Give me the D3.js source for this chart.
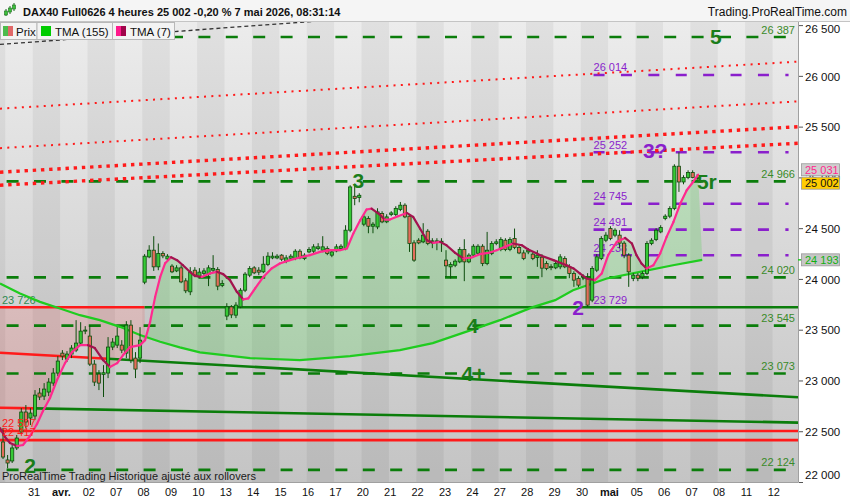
<!DOCTYPE html>
<html>
<head>
<meta charset="utf-8">
<script src="https://cdn.jsdelivr.net/npm/d3@7"></script>
<style>
  body { margin: 0; background: #fff; }
  svg { display: block; font-family: "Liberation Sans", Arial, sans-serif; }
</style>
</head>
<body>
<svg width="850" height="500"></svg>
<script>
var WIDTH = 850;
var HEIGHT = 500;
var PLOT_R = 798;
var PLOT_T = 22;
var PLOT_B = 482;

// 4h bars, 6 per trading day; slot 0 = first bar of 31 mars
var firstSlot = -7;
var open = [22399,22222,22212,22340,22497,22694,22635,22655,22881,22851,22891,22979,23078,23274,23215,23265,23304,23373,23491,23442,23166,23068,23065,23078,23334,23353,23353,23274,23550,23225,23225,
  23973,24222,24288,24124,24256,24202,24131,24084,24114,23986,23878,24091,24025,24059,24052,24091,24098,23941,23639,23730,23648,23730,23894,24042,24114,24091,24075,24147,24212,24212,24239,24180,24209,24206,24278,24206,24271,24278,24305,24288,24305,24239,24281,
  24305,24305,24485,24819,24807,24544,24600,24524,24517,24649,24567,24639,24639,24689,24731,24623,24360,24386,24370,24475,24360,24380,24370,24190,24124,24140,24173,24295,24173,24239,24258,24327,24157,24256,24354,24295,24386,24295,24403,24315,24261,24271,24249,24216,
  24219,24157,24126,24114,24124,24206,24124,24059,24009,24022,24009,23796,24091,24206,24386,24501,24436,24436,24357,24239,24009,24042,24025,24059,24354,24393,24468,24600,24623,24698,25115,24960,25003,25053,24992];
var high = [22536,22271,22369,22468,22733,22763,22733,22910,22930,22979,23028,23127,23245,23304,23294,23353,23599,23579,23540,23550,23206,23107,23156,23432,23422,23530,23402,23589,23599,23284,23530,
  24249,24337,24426,24354,24278,24249,24150,24140,24140,24012,24121,24121,24111,24111,24140,24239,24121,23993,23766,23747,23776,23914,24072,24131,24131,24121,24229,24268,24268,24249,24249,24239,24249,24298,24298,24258,24318,24347,24357,24426,24327,24298,24347,
  24347,24534,24928,24944,24849,24642,24623,24564,24701,24672,24642,24672,24721,24763,24750,24642,24386,24406,24554,24495,24406,24406,24406,24288,24170,24199,24318,24396,24258,24347,24347,24347,24468,24377,24396,24416,24406,24416,24501,24337,24288,24308,24268,24288,
  24249,24180,24150,24180,24249,24229,24150,24081,24032,24052,24062,24131,24249,24426,24465,24524,24504,24485,24377,24258,24062,24062,24081,24377,24406,24504,24534,24642,24721,25134,25252,25026,25075,25075,25036];
var low = [22231,22140,22192,22320,22477,22536,22566,22615,22812,22812,22851,22950,23048,23206,23186,23225,23284,23353,23461,23147,22950,22910,22842,23028,23304,23324,23274,23225,23176,23028,23176,
  23953,24209,24084,24091,24209,24190,24062,24072,23963,23865,23845,24022,24012,24042,23934,24072,23894,23924,23599,23619,23619,23717,23875,24022,24052,24042,24062,24131,24199,24199,24180,24160,24190,24190,24199,24190,24258,24258,24288,24268,24239,24219,24268,
  24288,24288,24465,24731,24760,24524,24455,24455,24495,24554,24554,24623,24623,24672,24603,24271,24173,24347,24357,24337,24308,24288,24271,24025,24009,24121,24160,23983,24160,24219,24239,24131,24140,24239,24337,24278,24278,24278,24298,24249,24190,24249,24190,24124,
  24022,24091,24091,24101,24101,24111,24012,23927,23924,23993,23729,23776,24072,24190,24367,24386,24416,24308,24209,23927,23983,23983,24003,24042,24337,24377,24455,24583,24603,24682,24862,24937,24987,24996,24980];
var close = [22251,22192,22340,22438,22694,22596,22684,22861,22842,22920,22989,23078,23196,23245,23265,23324,23373,23491,23501,23166,22989,22979,23081,23334,23383,23442,23304,23550,23206,23117,23402,
  24229,24288,24124,24256,24232,24229,24075,24114,23976,23888,24075,24042,24072,24084,24114,24108,23934,23960,23730,23651,23747,23894,24052,24108,24065,24072,24150,24229,24229,24229,24199,24212,24229,24278,24212,24239,24295,24321,24321,24321,24256,24271,24321,
  24327,24485,24911,24797,24829,24616,24524,24544,24665,24567,24616,24655,24698,24731,24616,24354,24190,24360,24436,24354,24380,24377,24376,24134,24147,24180,24295,24173,24239,24327,24327,24157,24288,24354,24370,24393,24295,24393,24315,24261,24206,24288,24206,24239,
  24111,24108,24116,24157,24222,24124,24059,23993,23944,24032,23747,24108,24222,24403,24436,24403,24485,24357,24239,24075,24042,24012,24059,24354,24386,24485,24511,24623,24698,25115,24960,25003,25053,25003,25002];

// trading days shown on the time axis (first bar of each day)
var dayLabels = ["31","avr.","02","07","08","09","10","13","14","15","16","17","20","21","22","23","24","27","28","29","30","mai","05","06","07","08","11","12"];
var boldLabels = ["avr.","mai"];

// indicators: slot position and value
var tma7Slot = [-7.66,-6.57,-5.47,-3.94,-2.63,-1.09,0.44,1.75,3.28,4.82,6.57,8.1,9.85,11.6,13.1,14.9,16.4,18,19.3,20.8,23,24.1,25.2,26.3,27.4,28.5,29.8,31.1,32.4,33.9,35,36.5,38.3,39.8,41.2,42.7,44.2,45.6,46.7,48.2,50,51.8,53.6,55.8,58,60.2,62.4,64.6,66.8,68.3,69.7,71.2,72.6,73.7,75.2,76.6,77.7,79.5,81.4,82.8,84.3,85.8,87.2,88.7,90.1,92,93.8,95.6,97.4,99.3,101.1,102.9,104.7,106.6,108,109.9,110.6,113.5,116.4,117.9,119.3,120.8,122.6,124.1,125.5,127.4,129.2,130.7,131.7,132.8,133.9,135.4,136.9,138.3,139.8,141.3,142.7,144.1,145.2];
var tma7Val = [22536,22448,22389,22359,22369,22458,22576,22704,22832,23009,23176,23284,23353,23353,23324,23206,23137,23176,23255,23334,23353,23402,23580,23826,24022,24160,24219,24190,24140,24075,24035,24025,24059,24075,24052,23993,23878,23803,23813,23911,24025,24108,24157,24190,24216,24239,24271,24288,24288,24305,24452,24583,24689,24698,24649,24590,24590,24623,24655,24616,24501,24386,24360,24370,24337,24261,24206,24216,24249,24261,24288,24321,24354,24337,24295,24256,24239,24190,24140,24108,24059,24009,23993,24059,24239,24370,24409,24354,24239,24157,24108,24140,24256,24419,24566,24747,24878,24960,25031];
var tma155Slot = [-7.66,-3.28,1.09,5.47,9.85,14.2,18.6,23,27.4,31.7,36.1,47.1,58,69,79.9,87.1,97.4,101.8,109,113.9,117.8,125.2,132.5,139.7,146.1];
var tma155Val = [23960,23862,23779,23714,23648,23599,23533,23452,23386,23331,23281,23225,23206,23245,23304,23373,23530,23599,23727,23796,23894,24009,24075,24140,24193];

var yTicks = [22000,22500,23000,23500,24000,24500,25000,25500,26000,26500];
var yTickLabels = ["22 000","22 500","23 000","23 500","24 000","24 500","25 000","25 500","26 000","26 500"];

var greenLevels = [26387,24966,24020,23545,23073,22124];
var greenLevelLabels = ["26 387","24 966","24 020","23 545","23 073","22 124"];
var purpleLevels = [26014,25252,24745,24491,24238];
var purpleLevelLabels = ["26 014","25 252","24 745","24 491","24 238"];
var redLevels = [22507,22417];
var redLevelLabels = ["22 507","22 417"];
var supportLevel = 23726;
var supportLabel = "23 726";
var lowLevel = 23729;
var lowLabel = "23 729";

// trend lines as [slot1, value1, slot2, value2]
var redDottedThick = [[-7.66,24928,167.1,25341],[-7.66,25056,167.1,25504]];
var redDottedThin = [[-7.66,25293,167.1,25754],[-7.66,25682,167.1,26145]];
var greenTrends = [[-7.66,23278,167.1,22839],[-7.66,22736,167.1,22590]];
var greenTrendRedUntil = [16,0];
var blackTrend = [-7.66,26315,58,26532];

// wave counts: text, slot, value
var greenWaves = [["5",149.1,26394],["3",70.8,24972],["4",95.8,23545],["4+",96,23073],["2",-1.1,22163],["5r",147.1,24967]];
var purpleWaves = [["3?",135.8,25272],["2",118.9,23722]];

var GREEN = '#0b7d0b';
var PURPLE = '#8a1fcc';
var RED = '#ff1a1a';

var x = d3.scaleLinear().domain([0, 168]).range([35, 35 + 168 * 4.567]);
var y = d3.scaleLinear().domain([22000, 26500]).range([482.5, 25.6]);
var sL = x.invert(0);
var sR = x.invert(PLOT_R);

var svg = d3.select('svg');
var defs = svg.append('defs');
var grad = defs.append('linearGradient').attr('id', 'bg')
  .attr('x1', 0).attr('y1', 0).attr('x2', 0).attr('y2', 1);
grad.append('stop').attr('offset', '0%').attr('stop-color', '#ececec');
grad.append('stop').attr('offset', '100%').attr('stop-color', '#c4c4c4');
defs.append('clipPath').attr('id', 'plot').append('rect')
  .attr('x', 0).attr('y', PLOT_T).attr('width', PLOT_R).attr('height', PLOT_B - PLOT_T);

var plot = svg.append('g').attr('clip-path', 'url(#plot)');
plot.append('rect').attr('x', 0).attr('y', PLOT_T)
  .attr('width', PLOT_R).attr('height', PLOT_B - PLOT_T).attr('fill', 'url(#bg)');

// alternate day bands
plot.selectAll('rect.band')
  .data(d3.range(-2, 30).filter(function(d) { return d % 2 === 0; }))
  .enter().append('rect')
  .attr('x', function(d) { return x(d * 6) - 2.3; })
  .attr('y', PLOT_T)
  .attr('width', 6 * 4.567)
  .attr('height', PLOT_B - PLOT_T)
  .attr('fill', '#000').attr('opacity', 0.05);

var tma7Pts = tma7Slot.map(function(s, i) { return [x(s), y(tma7Val[i])]; });
var tma155Pts = tma155Slot.map(function(s, i) { return [x(s), y(tma155Val[i])]; });
var lineGen = d3.line();

// red zone under the 23 726 support, left of the breakout
var pinkPts = [[x(sL), y(supportLevel)], [x(24), y(supportLevel)]].concat(
  tma7Pts.filter(function(p, i) { return tma7Slot[i] <= 24.2; }).reverse());
plot.append('path').attr('d', lineGen(pinkPts) + 'Z')
  .attr('fill', 'rgba(255,40,40,0.14)');

// green zone between TMA(7) and TMA(155)
var greenPts = tma7Pts.filter(function(p, i) { return tma7Slot[i] >= 24; })
  .concat(tma155Pts.filter(function(p, i) { return tma155Slot[i] >= 23; }).reverse());
plot.append('path').attr('d', lineGen(greenPts) + 'Z')
  .attr('fill', 'rgba(40,210,40,0.2)');

// dashed green levels
plot.selectAll('line.glev').data(greenLevels).enter().append('line')
  .attr('x1', x(-12) - 1).attr('x2', PLOT_R)
  .attr('y1', function(d) { return y(d); }).attr('y2', function(d) { return y(d); })
  .attr('stroke', GREEN).attr('stroke-width', 2.6).attr('stroke-dasharray', '12,15.4');

// dashed purple levels
plot.selectAll('line.plev').data(purpleLevels).enter().append('line')
  .attr('x1', x(122.3)).attr('x2', x(165))
  .attr('y1', function(d) { return y(d); }).attr('y2', function(d) { return y(d); })
  .attr('stroke', PURPLE).attr('stroke-width', 2.6).attr('stroke-dasharray', '11,16.4');

// solid horizontal levels
plot.append('line').attr('x1', x(sL)).attr('x2', x(24))
  .attr('y1', y(supportLevel)).attr('y2', y(supportLevel))
  .attr('stroke', RED).attr('stroke-width', 2.6);
plot.append('line').attr('x1', x(24)).attr('x2', PLOT_R)
  .attr('y1', y(supportLevel)).attr('y2', y(supportLevel))
  .attr('stroke', GREEN).attr('stroke-width', 2.6);
plot.selectAll('line.rlev').data(redLevels).enter().append('line')
  .attr('x1', 0).attr('x2', PLOT_R)
  .attr('y1', function(d) { return y(d); }).attr('y2', function(d) { return y(d); })
  .attr('stroke', RED).attr('stroke-width', 2.6);

function trendVal(t, s) {
  return t[1] + (t[3] - t[1]) * (s - t[0]) / (t[2] - t[0]);
}
function trendSeg(g, t, s1, s2) {
  return g.append('line')
    .attr('x1', x(s1)).attr('y1', y(trendVal(t, s1)))
    .attr('x2', x(s2)).attr('y2', y(trendVal(t, s2)));
}

greenTrends.forEach(function(t, i) {
  var cut = greenTrendRedUntil[i];
  trendSeg(plot, t, sL, cut).attr('stroke', RED).attr('stroke-width', 2.6);
  trendSeg(plot, t, cut, sR).attr('stroke', GREEN).attr('stroke-width', 2.6);
});
redDottedThin.forEach(function(t) {
  trendSeg(plot, t, sL, sR).attr('stroke', RED).attr('stroke-width', 2)
    .attr('stroke-dasharray', '2,5.3');
});
redDottedThick.forEach(function(t) {
  trendSeg(plot, t, sL, sR).attr('stroke', RED).attr('stroke-width', 3.4)
    .attr('stroke-dasharray', '3.4,4.8');
});
trendSeg(plot, blackTrend, sL, 80).attr('stroke', '#333').attr('stroke-width', 1.3)
  .attr('stroke-dasharray', '4,3');

// level labels
var labels = svg.append('g').attr('font-size', 11);
labels.selectAll('text.gl').data(greenLevels).enter().append('text')
  .attr('x', 795).attr('y', function(d) { return y(d) - 3.5; })
  .attr('text-anchor', 'end').attr('fill', '#3a8a2a')
  .text(function(d, i) { return greenLevelLabels[i]; });
labels.selectAll('text.pl').data(purpleLevels).enter().append('text')
  .attr('x', x(122.3)).attr('y', function(d) { return y(d) - 3.5; })
  .attr('fill', PURPLE)
  .text(function(d, i) { return purpleLevelLabels[i]; });
labels.append('text').attr('x', x(122.3)).attr('y', y(lowLevel) - 3)
  .attr('fill', PURPLE).text(lowLabel);
labels.append('text').attr('x', 2).attr('y', y(supportLevel) - 3.5)
  .attr('fill', '#2f8a52').text(supportLabel);

// TMA(155)
var ind = svg.append('g').attr('clip-path', 'url(#plot)');
ind.append('path').attr('d', lineGen(tma155Pts))
  .attr('fill', 'none').attr('stroke', '#1fcc1f').attr('stroke-width', 2.2);

// candles
var candles = open.map(function(o, i) {
  return { s: firstSlot + i, o: o, h: high[i], l: low[i], c: close[i] };
});
var cg = ind.append('g');
cg.selectAll('line.wick').data(candles).enter().append('line')
  .attr('x1', function(d) { return x(d.s); }).attr('x2', function(d) { return x(d.s); })
  .attr('y1', function(d) { return y(d.h); }).attr('y2', function(d) { return y(d.l); })
  .attr('stroke', '#0d4d0d').attr('stroke-width', 1);
cg.selectAll('rect.body').data(candles).enter().append('rect')
  .attr('x', function(d) { return x(d.s) - 1.6; })
  .attr('y', function(d) { return y(Math.max(d.o, d.c)); })
  .attr('width', 3.2)
  .attr('height', function(d) { return Math.max(1, Math.abs(y(d.o) - y(d.c))); })
  .attr('fill', function(d) { return d.c >= d.o ? '#36c936' : '#e46d5c'; })
  .attr('stroke', '#0d4d0d').attr('stroke-width', 0.8);

// red level labels sit over the bars
svg.append('g').attr('font-size', 11)
  .selectAll('text').data(redLevels).enter().append('text')
  .attr('x', 2).attr('y', function(d) { return y(d) - 4.5; })
  .attr('fill', RED)
  .text(function(d, i) { return redLevelLabels[i]; });

// TMA(7): pink rising, dark falling
for (var i = 1; i < tma7Pts.length; i++) {
  ind.append('line')
    .attr('x1', tma7Pts[i - 1][0]).attr('y1', tma7Pts[i - 1][1])
    .attr('x2', tma7Pts[i][0]).attr('y2', tma7Pts[i][1])
    .attr('stroke', tma7Val[i] >= tma7Val[i - 1] ? '#ff2a8e' : '#a3134f')
    .attr('stroke-width', 2.2).attr('stroke-linecap', 'round');
}

// wave counts
var waves = svg.append('g').attr('font-size', 21).attr('font-weight', 'bold')
  .attr('text-anchor', 'middle');
waves.selectAll('text.gw').data(greenWaves).enter().append('text')
  .attr('x', function(d) { return x(d[1]); }).attr('y', function(d) { return y(d[2]) + 7.5; })
  .attr('fill', '#1a7d1a').text(function(d) { return d[0]; });
waves.selectAll('text.pw').data(purpleWaves).enter().append('text')
  .attr('x', function(d) { return x(d[1]); }).attr('y', function(d) { return y(d[2]) + 7.5; })
  .attr('fill', PURPLE).text(function(d) { return d[0]; });

svg.append('text').attr('x', 2).attr('y', 480).attr('font-size', 11).attr('fill', '#1a1a1a')
  .text('ProRealTime Trading  Historique ajusté aux rollovers');

// axes frames
svg.append('rect').attr('x', PLOT_R + 0.5).attr('y', PLOT_T).attr('width', WIDTH - PLOT_R)
  .attr('height', HEIGHT - PLOT_T).attr('fill', '#fff');
svg.append('rect').attr('x', 0).attr('y', PLOT_B + 0.5).attr('width', WIDTH)
  .attr('height', HEIGHT - PLOT_B).attr('fill', '#fff');
svg.append('line').attr('x1', PLOT_R + 0.5).attr('x2', PLOT_R + 0.5).attr('y1', PLOT_T).attr('y2', PLOT_B + 0.5)
  .attr('stroke', '#a0a0a0');
svg.append('line').attr('x1', 0).attr('x2', PLOT_R + 0.5).attr('y1', PLOT_B + 0.5).attr('y2', PLOT_B + 0.5)
  .attr('stroke', '#a0a0a0');

// right price axis
var yAxis = svg.append('g').attr('font-size', 11.5).attr('fill', '#111');
yAxis.selectAll('line.tick').data(yTicks).enter().append('line')
  .attr('x1', PLOT_R + 1).attr('x2', PLOT_R + 5)
  .attr('y1', function(d) { return y(d); }).attr('y2', function(d) { return y(d); })
  .attr('stroke', '#555');
yAxis.selectAll('text').data(yTicks).enter().append('text')
  .attr('x', 805)
  .attr('y', function(d) { return Math.max(29, Math.min(475, y(d))) + 4.2; })
  .text(function(d, i) { return yTickLabels[i]; });

function valueBox(v, cy, bg, fg) {
  svg.append('rect').attr('x', 801.5).attr('y', cy - 6).attr('width', 38).attr('height', 12)
    .attr('fill', bg).attr('stroke', '#9a9a9a').attr('stroke-width', 0.8);
  svg.append('text').attr('x', 805).attr('y', cy + 4).attr('font-size', 11)
    .attr('fill', fg).text(d3.format(',')(v).replace(',', ' '));
}
var lastTma7 = tma7Val[tma7Val.length - 1];
var lastTma155 = tma155Val[tma155Val.length - 1];
var lastClose = close[close.length - 1];
svg.append('line').attr('x1', PLOT_R).attr('x2', 804).attr('y1', y(lastTma155)).attr('y2', y(lastTma155))
  .attr('stroke', '#1fcc1f').attr('stroke-width', 1.5);
valueBox(lastTma155, y(lastTma155), '#c6c6c6', '#12b012');
valueBox(lastTma7, y(lastTma7) - 5, '#cfcfcf', '#ff2a8e');
valueBox(lastClose, y(lastClose) + 5.5, '#ffcc00', '#111');

// time axis
svg.append('g').attr('font-size', 11).attr('fill', '#111').attr('text-anchor', 'middle')
  .selectAll('text').data(dayLabels).enter().append('text')
  .attr('x', function(d, i) { return x(i * 6) - 1; })
  .attr('y', 496)
  .attr('font-weight', function(d) { return boldLabels.indexOf(d) >= 0 ? 'bold' : 'normal'; })
  .text(function(d) { return d; });

// header
svg.append('rect').attr('x', 0).attr('y', 0).attr('width', WIDTH).attr('height', PLOT_T)
  .attr('fill', '#f5f5f5');
svg.append('line').attr('x1', 0).attr('x2', WIDTH).attr('y1', PLOT_T - 0.5).attr('y2', PLOT_T - 0.5)
  .attr('stroke', '#c4c4c4');
var icon = svg.append('g');
[[6, 9, 16, 11, 15], [10, 6, 14, 8, 12], [14, 3, 11, 5, 9]].forEach(function(c) {
  icon.append('line').attr('x1', c[0]).attr('x2', c[0]).attr('y1', c[1]).attr('y2', c[2])
    .attr('stroke', '#1c6b1c');
  icon.append('rect').attr('x', c[0] - 1.5).attr('y', c[3]).attr('width', 3).attr('height', c[4] - c[3])
    .attr('fill', '#3cc23c').attr('stroke', '#1c6b1c').attr('stroke-width', 0.6);
});
svg.append('text').attr('x', 23).attr('y', 16).attr('font-size', 11).attr('font-weight', 'bold')
  .attr('fill', '#111').text('DAX40 Full0626 4 heures 25 002 -0,20 % 7 mai 2026, 08:31:14');
svg.append('text').attr('x', 847).attr('y', 16).attr('font-size', 12).attr('text-anchor', 'end')
  .attr('fill', '#111').text('Trading.ProRealTime.com');

// legend
var legend = svg.append('g').attr('font-size', 11.5).attr('fill', '#111');
var legendBoxes = [[0.5, 36.5], [37, 75.5], [112.5, 62]];
legendBoxes.forEach(function(b) {
  legend.append('rect').attr('x', b[0]).attr('y', 22.5).attr('width', b[1]).attr('height', 17)
    .attr('fill', '#f3f3f3').attr('stroke', '#b8b8b8');
});
legend.append('rect').attr('x', 3).attr('y', 26).attr('width', 5).attr('height', 10).attr('fill', '#4cbb4c');
legend.append('rect').attr('x', 8).attr('y', 26).attr('width', 5).attr('height', 10).attr('fill', '#e06868');
legend.append('text').attr('x', 16).attr('y', 35.5).text('Prix');
legend.append('rect').attr('x', 41).attr('y', 26).attr('width', 10).attr('height', 10).attr('fill', '#00cc00');
legend.append('text').attr('x', 55).attr('y', 35.5).text('TMA (155)');
legend.append('rect').attr('x', 116).attr('y', 26).attr('width', 5).attr('height', 10).attr('fill', '#ff1a8c');
legend.append('rect').attr('x', 121).attr('y', 26).attr('width', 5).attr('height', 10).attr('fill', '#a0044a');
legend.append('text').attr('x', 130).attr('y', 35.5).text('TMA (7)');
</script>
</body>
</html>
